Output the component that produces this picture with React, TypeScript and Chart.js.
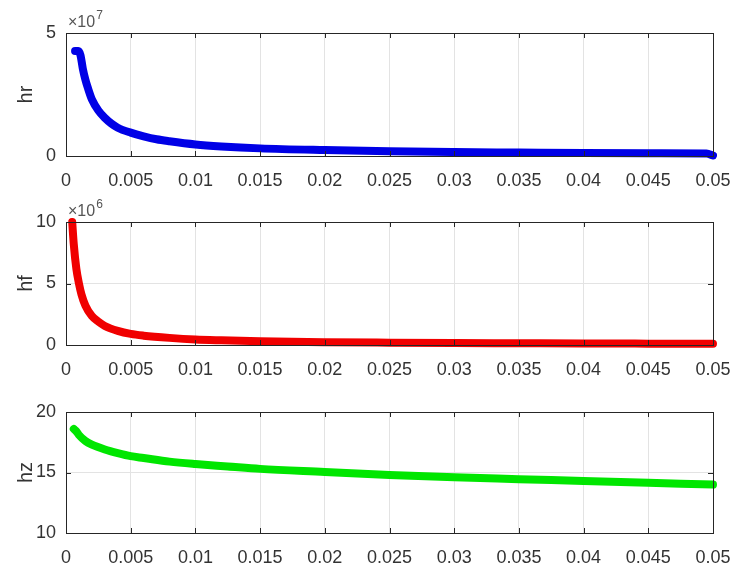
import { useEffect, useRef } from 'react';
import { Chart, registerables } from 'chart.js';

Chart.register(...registerables);

const xMin = 0;
const xMax = 0.05;
const xStep = 0.005;

const hrX = [0.0007, 0.00095, 0.00112, 0.0013, 0.0015, 0.0017, 0.002, 0.0025, 0.003, 0.0035, 0.004, 0.005, 0.006, 0.007, 0.008, 0.01, 0.012, 0.015, 0.02, 0.025, 0.03, 0.035, 0.04, 0.045, 0.0495, 0.05];
const hrY = [4.27e7, 4.27e7, 4.1e7, 3.55e7, 3.1e7, 2.75e7, 2.3e7, 1.85e7, 1.55e7, 1.32e7, 1.15e7, 0.95e7, 0.8e7, 0.68e7, 0.6e7, 0.47e7, 0.39e7, 0.31e7, 0.24e7, 0.19e7, 0.16e7, 0.14e7, 0.12e7, 0.11e7, 0.1e7, 0.02e7];

const hfX = [0.00048, 0.0006, 0.0008, 0.001, 0.0012, 0.0015, 0.002, 0.0025, 0.003, 0.004, 0.005, 0.006, 0.008, 0.01, 0.012, 0.015, 0.02, 0.025, 0.03, 0.035, 0.04, 0.045, 0.05];
const hfY = [10.0e6, 8.2e6, 6.2e6, 5.0e6, 4.1e6, 3.2e6, 2.35e6, 1.9e6, 1.55e6, 1.15e6, 0.9e6, 0.76e6, 0.58e6, 0.45e6, 0.38e6, 0.3e6, 0.23e6, 0.19e6, 0.16e6, 0.14e6, 0.12e6, 0.11e6, 0.1e6];

const hzX = [0.0006, 0.0008, 0.001, 0.0015, 0.002, 0.003, 0.004, 0.005, 0.006, 0.008, 0.01, 0.0125, 0.015, 0.02, 0.025, 0.03, 0.035, 0.04, 0.045, 0.05];
const hzY = [18.6, 18.4, 18.1, 17.6, 17.3, 16.9, 16.6, 16.35, 16.2, 15.9, 15.7, 15.5, 15.3, 15.05, 14.8, 14.6, 14.45, 14.3, 14.15, 14.0];

const FONT = "'Liberation Sans', Arial, sans-serif";
const TEXT = '#333333';

type PanelProps = {
  xs: number[];
  ys: number[];
  color: string;
  title: string;
  yMin: number;
  yMax: number;
  yStep: number;
  divisor: number;
  exponent: string | null;
  top: number;
  height: number;
  areaTop: number;
  areaBottom: number;
};

const framePlugin = {
  id: 'frame',
  afterDraw(chart: any, _args: any, opts: any) {
    const { ctx, chartArea } = chart;
    const { left, right, top, bottom } = chartArea;
    ctx.save();
    ctx.strokeStyle = '#262626';
    ctx.lineWidth = 1;
    ctx.strokeRect(Math.round(left) + 0.5, Math.round(top) + 0.5, Math.round(right - left), Math.round(bottom - top));
    const xs = chart.scales.x;
    const ys = chart.scales.y;
    const tl = 5;
    ctx.beginPath();
    xs.ticks.forEach((t: any) => {
      const px = Math.round(xs.getPixelForValue(t.value)) + 0.5;
      ctx.moveTo(px, top);
      ctx.lineTo(px, top + tl);
      ctx.moveTo(px, bottom);
      ctx.lineTo(px, bottom - tl);
    });
    ys.ticks.forEach((t: any) => {
      const py = Math.round(ys.getPixelForValue(t.value)) + 0.5;
      ctx.moveTo(left, py);
      ctx.lineTo(left + tl, py);
      ctx.moveTo(right, py);
      ctx.lineTo(right - tl, py);
    });
    ctx.stroke();
    if (opts && opts.exponent) {
      ctx.fillStyle = '#555555';
      ctx.textBaseline = 'alphabetic';
      ctx.textAlign = 'left';
      ctx.font = `16px ${FONT}`;
      const bx = left + 2;
      const by = top - 6;
      ctx.fillText('\u00d710', bx, by);
      const w = ctx.measureText('\u00d710').width;
      ctx.font = `12px ${FONT}`;
      ctx.fillText(opts.exponent, bx + w + 1, by - 8);
    }
    ctx.restore();
  },
};

function fmtX(v: number): string {
  if (Math.abs(v) < 1e-12) return '0';
  return String(Number(v.toFixed(3)));
}

function Panel(p: PanelProps) {
  const ref = useRef<HTMLCanvasElement | null>(null);
  useEffect(() => {
    if (!ref.current) return;
    const chart = new Chart(ref.current, {
      type: 'line',
      data: {
        datasets: [
          {
            data: p.xs.map((x, i) => ({ x, y: p.ys[i] })),
            borderColor: p.color,
            backgroundColor: p.color,
            borderWidth: 8,
            pointRadius: 0,
            tension: 0.3,
            cubicInterpolationMode: 'monotone',
            borderCapStyle: 'round',
            borderJoinStyle: 'round',
            clip: false as any,
          } as any,
        ],
      },
      options: {
        animation: false,
        responsive: false,
        maintainAspectRatio: false,
        layout: { padding: { top: p.areaTop, right: 25, left: 0, bottom: 0 } },
        plugins: {
          legend: { display: false },
          tooltip: { enabled: false },
          frame: { exponent: p.exponent },
        } as any,
        scales: {
          x: {
            type: 'linear',
            min: xMin,
            max: xMax,
            border: { display: false },
            grid: { color: '#e3e3e3', lineWidth: 1, drawTicks: false },
            ticks: {
              stepSize: xStep,
              autoSkip: false,
              maxRotation: 0,
              padding: 14,
              color: TEXT,
              font: { family: FONT, size: 18 },
              callback: (v: any) => fmtX(Number(v)),
            },
            afterFit: (s: any) => {
              s.height = p.height - p.areaBottom;
              s.paddingLeft = 0;
              s.paddingRight = 0;
            },
          },
          y: {
            type: 'linear',
            min: p.yMin,
            max: p.yMax,
            border: { display: false },
            grid: { color: '#e3e3e3', lineWidth: 1, drawTicks: false },
            ticks: {
              stepSize: p.yStep,
              padding: 10,
              color: TEXT,
              font: { family: FONT, size: 18 },
              callback: (v: any) => String(Math.round(Number(v) / p.divisor)),
            },
            title: {
              display: true,
              text: p.title,
              color: TEXT,
              font: { family: FONT, size: 20 },
              padding: { top: 14, bottom: 0 },
            },
            afterFit: (s: any) => {
              s.width = 66;
              s.paddingTop = 0;
              s.paddingBottom = 0;
            },
          },
        },
      },
      plugins: [framePlugin],
    });
    return () => chart.destroy();
  }, []);
  return (
    <canvas
      ref={ref}
      width={738}
      height={p.height}
      style={{ position: 'absolute', left: 0, top: p.top, width: 738, height: p.height }}
    />
  );
}

export default function App() {
  return (
    <div style={{ position: 'fixed', left: 0, top: 0, width: 738, height: 571, background: '#ffffff' }}>
      <Panel xs={hrX} ys={hrY} color="#0000e6" title="hr" yMin={0} yMax={5e7} yStep={5e7} divisor={1e7} exponent="7" top={0} height={190} areaTop={33} areaBottom={156} />
      <Panel xs={hfX} ys={hfY} color="#f00000" title="hf" yMin={0} yMax={1e7} yStep={5e6} divisor={1e6} exponent="6" top={190} height={190} areaTop={32} areaBottom={155} />
      <Panel xs={hzX} ys={hzY} color="#00e600" title="hz" yMin={10} yMax={20} yStep={5} divisor={1} exponent={null} top={380} height={191} areaTop={32} areaBottom={153} />
    </div>
  );
}
